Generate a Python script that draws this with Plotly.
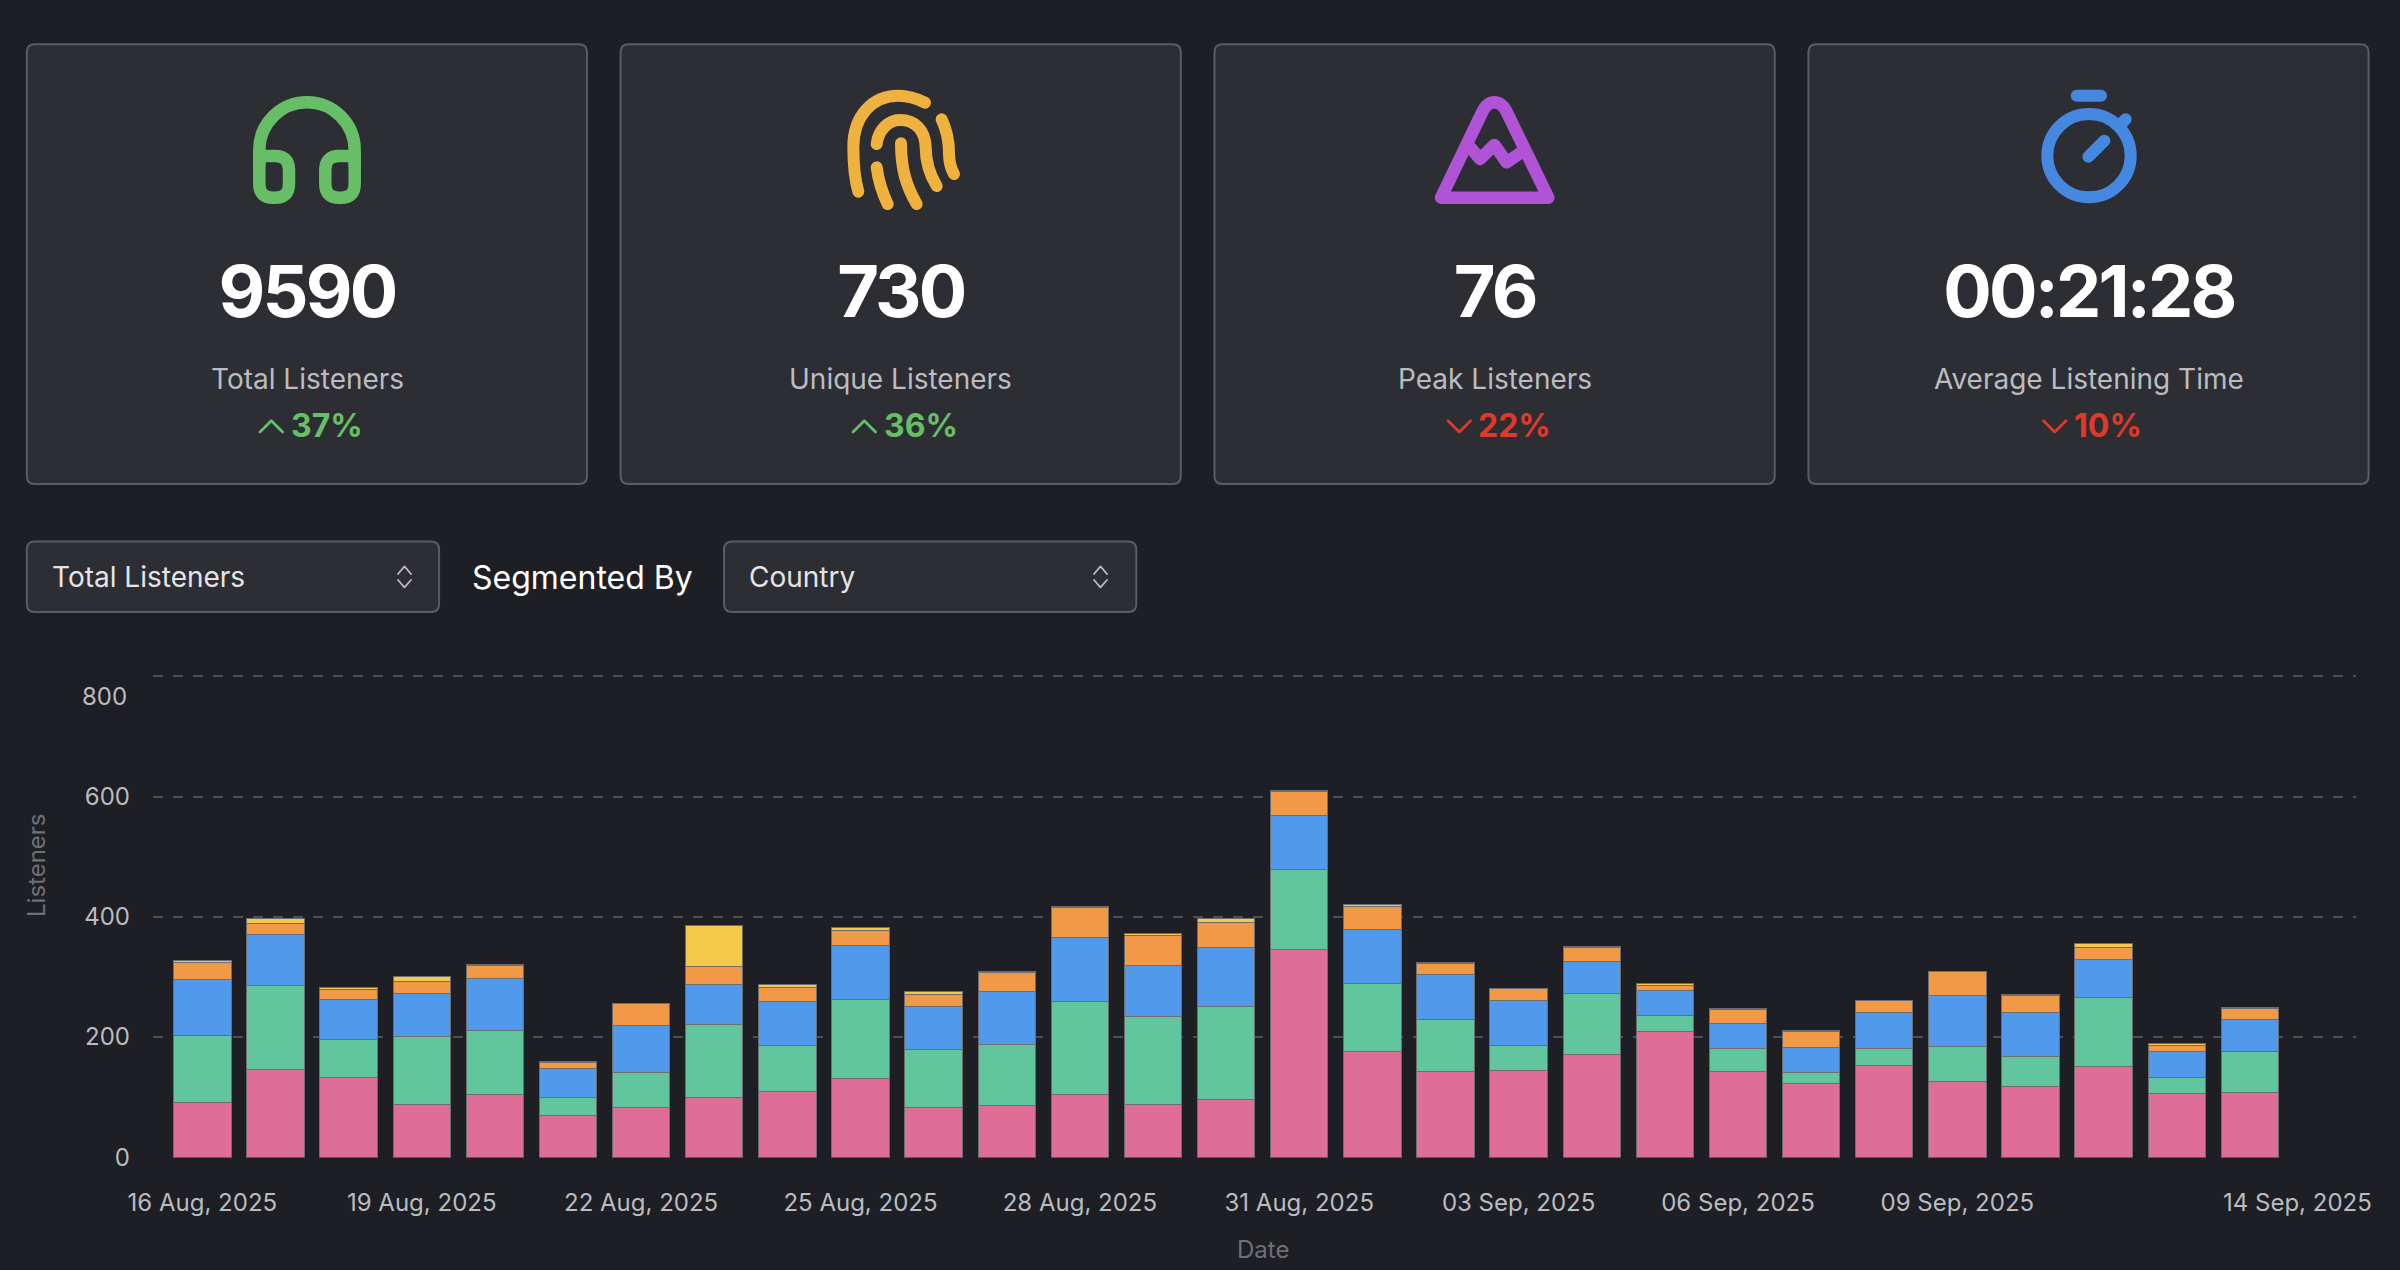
import re
import pandas as pd
import plotly.graph_objects as go

W = 2400
H = 1270

BG = "#1e1f24"
CARD = "#2d2e34"
BORDER = "#5b5c63"
MUTED = "#bbbcc0"
DIM = "#6f7075"
GREEN = "#67be66"
RED = "#e0392b"
FONT = "Inter"

# stat cards
CARD_VALUES = ["9590", "730", "76", "00:21:28"]
CARD_LABELS = ["Total Listeners", "Unique Listeners", "Peak Listeners", "Average Listening Time"]
CARD_DELTAS = ["37%", "36%", "22%", "10%"]
CARD_UP = [True, True, False, False]

# chart data, one list per country
DATES = pd.date_range("2025-08-16", "2025-09-14").strftime("%d %b, %Y").tolist()
TICK_DATES = DATES[:25:3]
Y_TICKS = [0, 200, 400, 600, 800]

PINK_VALUES = [91, 146, 132, 88, 105, 70, 83, 100, 110, 131, 83, 86, 105, 88, 96,
               345, 176, 143, 144, 170, 209, 142, 122, 152, 126, 117, 151, 106, 108]
GREEN_VALUES = [112, 140, 63, 112, 106, 30, 58, 120, 75, 131, 96, 101, 154, 146, 155,
                134, 113, 86, 41, 102, 27, 38, 18, 28, 58, 50, 114, 26, 67]
BLUE_VALUES = [92, 84, 67, 72, 87, 47, 78, 67, 74, 90, 72, 89, 106, 85, 98,
               90, 89, 75, 76, 53, 41, 42, 43, 60, 85, 74, 64, 43, 54]
ORANGE_VALUES = [29, 19, 17, 21, 21, 11, 36, 30, 24, 25, 20, 32, 50, 50, 41,
                 40, 39, 18, 19, 24, 8, 23, 26, 20, 40, 28, 20, 11, 19]
YELLOW_VALUES = [4, 8, 4, 7, 2, 1, 1, 69, 4, 5, 4, 1, 2, 3, 7,
                 1, 4, 2, 0, 2, 4, 2, 1, 1, 0, 1, 7, 3, 1]

SERIES = [
    (PINK_VALUES, "#de6e96"),
    (GREEN_VALUES, "#61c69d"),
    (BLUE_VALUES, "#5199ea"),
    (ORANGE_VALUES, "#f29946"),
    (YELLOW_VALUES, "#f4c94a"),
]


def fx(x):
    return x / W


def fy(y):
    return 1 - y / H


def to_paper(path, ox=0, oy=0, scale=1):
    # path is written in pixels, shapes want paper fractions
    def repl(m):
        x = ox + float(m.group(1)) * scale
        y = oy + float(m.group(2)) * scale
        return f"{fx(x):.5f},{fy(y):.5f}"
    return re.sub(r"(-?[\d.]+) (-?[\d.]+)", repl, path)


def stroke(path, color, width, ox=0, oy=0, scale=1):
    return dict(type="path", path=to_paper(path, ox, oy, scale), xref="paper", yref="paper",
                line=dict(color=color, width=width))


def box(x0, y0, x1, y1, r=8):
    p = (f"M {x0 + r} {y0} L {x1 - r} {y0} Q {x1} {y0} {x1} {y0 + r} L {x1} {y1 - r} "
         f"Q {x1} {y1} {x1 - r} {y1} L {x0 + r} {y1} Q {x0} {y1} {x0} {y1 - r} "
         f"L {x0} {y0 + r} Q {x0} {y0} {x0 + r} {y0} Z")
    return dict(type="path", path=to_paper(p), xref="paper", yref="paper",
                fillcolor=CARD, line=dict(color=BORDER, width=2), layer="below")


def label(text, x, y, size, color, anchor="center", weight=400, angle=0):
    return dict(text=text, x=fx(x), y=fy(y), xref="paper", yref="paper", showarrow=False,
                xanchor=anchor, yanchor="middle", textangle=angle,
                font=dict(family=FONT, size=size, color=color, weight=weight))


fig = go.Figure()
for values, color in SERIES:
    fig.add_trace(go.Bar(x=DATES[:len(values)], y=values,
                         marker=dict(color=color, line=dict(color="#6b6d70", width=1))))

shapes = []
annotations = []

# cards
card_left = [26.8, 620.6, 1214.5, 1808.4]
chevron_x = [260, 853, 1448, 2043.4]
delta_x = [288.5, 881.5, 1476, 2072]
for i, left in enumerate(card_left):
    cx = left + 280.2
    shapes.append(box(left, 44.3, left + 560.2, 484))
    annotations.append(label(CARD_VALUES[i], cx, 290, 72, "#ffffff", weight=700))
    annotations.append(label(CARD_LABELS[i], cx, 379, 28, MUTED))
    color = GREEN if CARD_UP[i] else RED
    x0 = chevron_x[i]
    if CARD_UP[i]:
        chev = f"M {x0} 432 L {x0 + 11.3} 420.7 L {x0 + 22.6} 432"
    else:
        chev = f"M {x0} 420.7 L {x0 + 11.3} 432 L {x0 + 22.6} 420.7"
    shapes.append(stroke(chev, color, 2.8))
    annotations.append(label(CARD_DELTAS[i], delta_x[i], 425.5, 32, color, anchor="left", weight=700))

# icons, coordinates are zoomed pixels around each icon
ICON_GREEN = "#67be66"
for p in ["M 259.3 165 L 259.3 150 C 259.3 123.7 280.7 102.3 307 102.3 C 333.3 102.3 354.7 123.7 354.7 150 L 354.7 165",
          "M 259.3 156 L 275 156 Q 289 156 289 170 L 289 184 Q 289 197.7 275 197.7 L 273 197.7 Q 259.3 197.7 259.3 184 Z",
          "M 354.7 156 L 339 156 Q 325.3 156 325.3 170 L 325.3 184 Q 325.3 197.7 339 197.7 L 341 197.7 Q 354.7 197.7 354.7 184 Z"]:
    shapes.append(stroke(p, ICON_GREEN, 12.5))

for p in ["M 270 68 C 245 55 215 47 190 47 C 110 47 55 110 55 200 C 55 250 60 300 70 335",
          "M 125 192 C 130 150 160 120 195 120 C 240 120 270 150 272 200 C 272 250 285 285 305 318",
          "M 198 190 C 198 270 215 320 245 372",
          "M 125 262 C 130 300 140 335 158 372",
          "M 320 118 C 335 150 342 190 342 220 C 342 245 347 265 357 282"]:
    shapes.append(stroke(p, "#efb23f", 12, 835, 80, 1 / 3))

for p in ["M 48 338 L 170 85 Q 185 52 208 52 Q 232 52 247 85 L 370 338 Z",
          "M 138 190 L 165 222 L 208 180 L 245 232 L 292 200"]:
    shapes.append(stroke(p, "#b153d6", 12.5, 1425, 85, 1 / 3))

for p in ["M 155 47 L 228 47", "M 190 230 L 238 182", "M 290 130 L 302 118"]:
    shapes.append(stroke(p, "#4488e0", 12, 2025, 80, 1 / 3))
shapes.append(dict(type="circle", xref="paper", yref="paper",
                   x0=fx(2025 + 67 / 3), x1=fx(2025 + 317 / 3), y0=fy(80 + 352 / 3), y1=fy(80 + 102 / 3),
                   line=dict(color="#4488e0", width=12)))

# dropdowns
for left, text, text_x, arrow_x in [(26.8, "Total Listeners", 50, 398), (724, "Country", 747, 1094)]:
    shapes.append(box(left, 541.5, left + 412.3, 612))
    annotations.append(label(text, text_x, 577.4, 28, "#e4e4e6", anchor="left"))
    shapes.append(stroke(f"M {arrow_x} 574 L {arrow_x + 6.5} 566.4 L {arrow_x + 13} 574", MUTED, 1.8))
    shapes.append(stroke(f"M {arrow_x} 580 L {arrow_x + 6.5} 587.4 L {arrow_x + 13} 580", MUTED, 1.8))
annotations.append(label("Segmented By", 470, 577.4, 32, "#ffffff", anchor="left"))

# axis texts that sit away from their normal place
annotations.append(label("Listeners", 36, 865, 24, DIM, angle=-90))
annotations.append(label("Date", 1262.8, 1249, 24, DIM))
annotations.append(label("800", 129, 696.5, 24, MUTED, anchor="right"))
annotations.append(label("14 Sep, 2025", 2373.5, 1202, 24, MUTED, anchor="right"))

fig.update_layout(
    width=W,
    height=H,
    margin=dict(l=0, r=0, t=0, b=0),
    paper_bgcolor=BG,
    plot_bgcolor=BG,
    barmode="stack",
    bargap=0.214,
    showlegend=False,
    shapes=shapes,
    annotations=annotations,
    font=dict(family=FONT, color=MUTED),
    xaxis=dict(
        type="category",
        categoryorder="array",
        categoryarray=DATES,
        automargin=False,
        domain=[153 / W, 2355.6 / W],
        range=[-0.675, 29.446],
        tickmode="array",
        tickvals=TICK_DATES,
        ticktext=TICK_DATES,
        tickangle=0,
        ticks="",
        ticklabelstandoff=28,
        tickfont=dict(family=FONT, size=24, color=MUTED),
        showgrid=False,
        showline=False,
        zeroline=False,
    ),
    yaxis=dict(
        automargin=False,
        # a little room past 0 and 800 so both end gridlines get drawn
        domain=[1 - 1157.7 / H, 1 - 675.2 / H],
        range=[-1, 802],
        tickmode="array",
        tickvals=Y_TICKS,
        ticktext=[str(v) if v != 800 else "" for v in Y_TICKS],
        ticks="",
        ticklabelstandoff=22,
        tickfont=dict(family=FONT, size=24, color=MUTED),
        showgrid=True,
        gridcolor="#4d4e53",
        gridwidth=2,
        griddash="10px,10px",
        zeroline=False,
        showline=False,
    ),
)

post = """
document.body.style.margin = '0';
document.body.style.background = '#1e1f24';
document.body.style.overflow = 'hidden';
document.querySelectorAll('.shapelayer path').forEach(function (p) {
  p.style.strokeLinecap = 'round';
  p.style.strokeLinejoin = 'round';
});
document.querySelectorAll('.annotation-text').forEach(function (t) {
  if (parseFloat(t.style.fontSize) === 72) t.style.letterSpacing = '-2.8px';
});
"""

fig.write_html("out.html", post_script=post, config=dict(displayModeBar=False))
